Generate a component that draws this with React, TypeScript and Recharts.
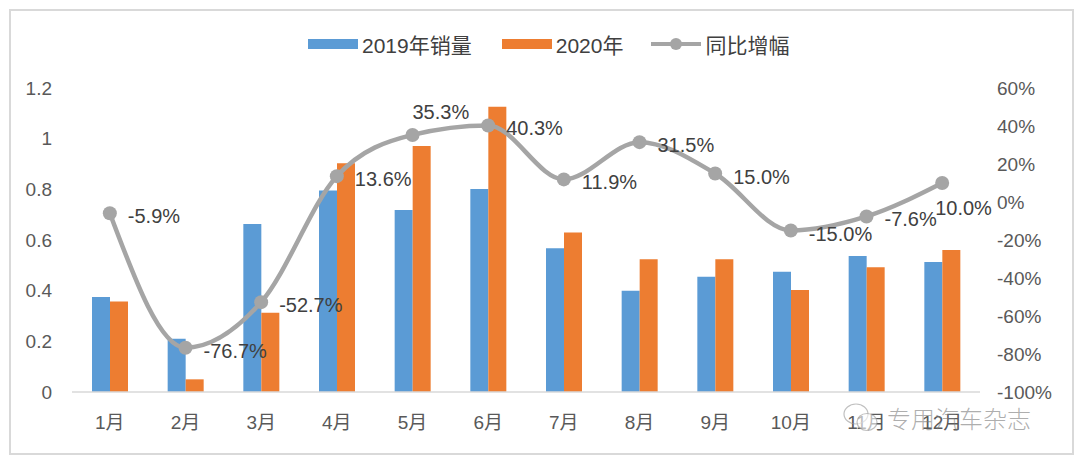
import { ComposedChart, Bar, Line, XAxis, YAxis, LabelList } from "recharts";

const months = ["1月", "2月", "3月", "4月", "5月", "6月", "7月", "8月", "9月", "10月", "11月", "12月"];
const sales2019 = [0.375, 0.21, 0.663, 0.795, 0.718, 0.801, 0.567, 0.4, 0.455, 0.475, 0.537, 0.513];
const sales2020 = [0.357, 0.05, 0.313, 0.903, 0.971, 1.126, 0.63, 0.524, 0.524, 0.403, 0.492, 0.561];
const yoyPct = [-5.9, -76.7, -52.7, 13.6, 35.3, 40.3, 11.9, 31.5, 15.0, -15.0, -7.6, 10.0];
const leftTicks = [0, 0.2, 0.4, 0.6, 0.8, 1, 1.2];
const rightTicks = [-100, -80, -60, -40, -20, 0, 20, 40, 60];

// label nudges for the two points whose labels sit off to the side
const labelShift: Record<number, [number, number]> = {
  4: [0, -23],
  11: [-7, 25],
};

const data = months.map((m, i) => ({
  month: m,
  y2019: sales2019[i],
  y2020: sales2020[i],
  yoy: yoyPct[i],
}));

const FONT = '"Liberation Sans", Arial, "Noto Sans CJK SC", sans-serif';
const BLUE = "#5B9BD5";
const ORANGE = "#ED7D31";
const GREY = "#A5A5A5";
const TICK = { fill: "#595959", fontSize: 19, fontFamily: FONT };

function YoyLabel(props: any) {
  const { x, y, value, index } = props;
  const [dx, dy] = labelShift[index] ?? [18, 3];
  return (
    <text
      x={x + dx}
      y={y + dy}
      fill="#404040"
      fontSize={20}
      fontFamily={FONT}
      textAnchor="start"
      dominantBaseline="central"
    >
      {`${Number(value).toFixed(1)}%`}
    </text>
  );
}

function ChartLegend() {
  return (
    <div
      style={{
        position: "absolute",
        top: 29,
        left: 308,
        display: "flex",
        alignItems: "center",
        fontFamily: FONT,
        fontSize: 21,
        color: "#404040",
      }}
    >
      <span style={{ width: 50, height: 10, background: BLUE, marginRight: 4 }} />
      <span style={{ marginRight: 30 }}>2019年销量</span>
      <span style={{ width: 50, height: 10, background: ORANGE, marginRight: 4 }} />
      <span style={{ marginRight: 28 }}>2020年</span>
      <svg width={50} height={14} style={{ marginRight: 4 }}>
        <line x1={0} y1={7} x2={50} y2={7} stroke={GREY} strokeWidth={4} />
        <circle cx={25} cy={7} r={6} fill={GREY} />
      </svg>
      <span>同比增幅</span>
    </div>
  );
}

function Watermark() {
  return (
    <div
      style={{
        position: "absolute",
        left: 842,
        top: 400,
        display: "flex",
        alignItems: "center",
        color: "rgba(120,120,120,0.6)",
        fontFamily: '"Noto Sans CJK SC", sans-serif',
        fontSize: 24,
        fontWeight: 300,
      }}
    >
      <svg width={40} height={32} style={{ marginRight: 5 }}>
        <ellipse cx={14} cy={12} rx={12} ry={10} fill="none" stroke="rgba(150,150,150,0.6)" strokeWidth={1.2} />
        <ellipse cx={25} cy={20} rx={10} ry={8.5} fill="rgba(255,255,255,0.6)" stroke="rgba(150,150,150,0.6)" strokeWidth={1.2} />
      </svg>
      <span>专用汽车杂志</span>
    </div>
  );
}

export default function App() {
  return (
    <div
      style={{
        position: "absolute",
        left: 0,
        top: 0,
        width: 1080,
        height: 461,
        background: "#fff",
      }}
    >
      <div
        style={{
          position: "absolute",
          left: 9,
          top: 9,
          width: 1061,
          height: 442,
          border: "2px solid #d9d9d9",
        }}
      />
      <ComposedChart
        width={1080}
        height={461}
        data={data}
        margin={{ top: 88, right: 20, left: 12, bottom: 39 }}
        barGap={0}
        barSize={18}
      >
        <XAxis
          dataKey="month"
          height={30}
          axisLine={{ stroke: "#d9d9d9", strokeWidth: 1.5 }}
          tickLine={false}
          tickMargin={18}
          tick={TICK}
        />
        <YAxis
          yAxisId="left"
          width={60}
          domain={[0, 1.2]}
          ticks={leftTicks}
          axisLine={false}
          tickLine={false}
          tickMargin={14}
          tick={TICK}
        />
        <YAxis
          yAxisId="right"
          orientation="right"
          width={80}
          domain={[-100, 60]}
          ticks={rightTicks}
          axisLine={false}
          tickLine={false}
          tickMargin={11}
          tickFormatter={(v) => `${v}%`}
          tick={TICK}
        />
        <Bar yAxisId="left" dataKey="y2019" fill={BLUE} isAnimationActive={false} />
        <Bar yAxisId="left" dataKey="y2020" fill={ORANGE} isAnimationActive={false} />
        <Line
          yAxisId="right"
          type="monotone"
          dataKey="yoy"
          stroke={GREY}
          strokeWidth={4.5}
          dot={{ r: 7, fill: GREY, stroke: GREY, strokeWidth: 0 }}
          isAnimationActive={false}
        >
          <LabelList dataKey="yoy" content={YoyLabel} />
        </Line>
      </ComposedChart>
      <ChartLegend />
      <Watermark />
    </div>
  );
}
